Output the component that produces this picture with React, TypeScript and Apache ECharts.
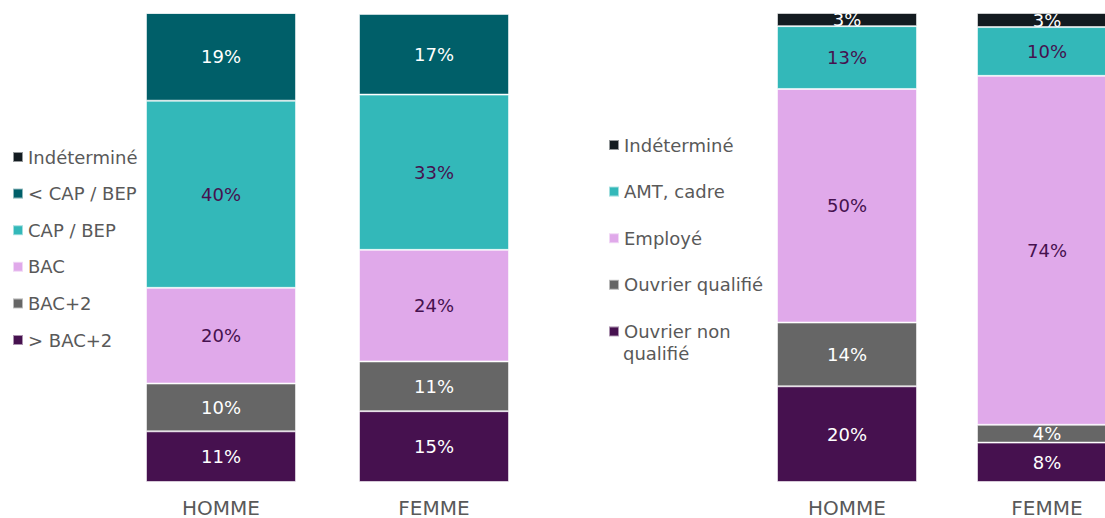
import React, { useEffect, useRef } from "react";
import * as echarts from "echarts";

const categories = ["HOMME", "FEMME"];

// Left chart: diploma level (bottom to top)
const leftSeriesNames = ["> BAC+2", "BAC+2", "BAC", "CAP / BEP", "< CAP / BEP", "Indéterminé"];
const leftSupBac2 = [10.8, 15.1];
const leftBac2 = [10.2, 10.6];
const leftBac = [20.4, 23.8];
const leftCapBep = [39.9, 33.1];
const leftInfCap = [18.7, 17.2];
const leftIndet = [0, 0.2];

// Right chart: socio-professional category (bottom to top)
const rightSeriesNames = ["Ouvrier non qualifié", "Ouvrier qualifié", "Employé", "AMT, cadre", "Indéterminé"];
const rightOuvNonQual = [20.4, 8.4];
const rightOuvQual = [13.6, 3.8];
const rightEmploye = [49.8, 74.4];
const rightAmtCadre = [13.4, 10.4];
const rightIndet = [2.8, 3.0];

const leftLegendOrder = ["Indéterminé", "< CAP / BEP", "CAP / BEP", "BAC", "BAC+2", "> BAC+2"];
const rightLegendOrder = ["Indéterminé", "AMT, cadre", "Employé", "Ouvrier qualifié", "Ouvrier non qualifié"];

const C_INDET = "#131B20";
const C_INFCAP = "#005F69";
const C_TEAL = "#33B8B9";
const C_PINK = "#E0A9EA";
const C_GREY = "#666666";
const C_PURPLE = "#46114F";
const FONT = "DejaVu Sans";

export default function App() {
  const ref = useRef<HTMLDivElement>(null);

  useEffect(() => {
    if (!ref.current) return;
    const chart = echarts.init(ref.current, undefined, { renderer: "svg" });

    const mk = (
      name: string,
      data: number[],
      color: string,
      labelColor: string,
      axis: number
    ) => ({
      name,
      type: "bar",
      stack: axis === 0 ? "left" : "right",
      xAxisIndex: axis,
      yAxisIndex: axis,
      data,
      barWidth: axis === 0 ? 150 : 140,
      itemStyle: {
        color,
        borderColor: "rgba(255,255,255,0.55)",
        borderWidth: 1,
      },
      label: {
        show: true,
        position: "inside",
        color: labelColor,
        fontSize: 18,
        fontFamily: FONT,
        formatter: (p: any) => (p.value >= 1 ? Math.round(p.value) + "%" : ""),
      },
    });

    const legendText = {
      color: "#595959",
      fontSize: 18,
      fontFamily: FONT,
      lineHeight: 18,
    };

    chart.setOption({
      animation: false,
      textStyle: { fontFamily: FONT },
      legend: [
        {
          orient: "vertical",
          left: 12,
          top: 148,
          padding: 0,
          itemWidth: 10,
          itemHeight: 10,
          itemGap: 18.6,
          icon: "rect",
          data: leftLegendOrder,
          textStyle: legendText,
          selectedMode: false,
        },
        {
          orient: "vertical",
          left: 608,
          top: 136,
          padding: 0,
          itemWidth: 10,
          itemHeight: 10,
          itemGap: 28.6,
          icon: "rect",
          data: rightLegendOrder,
          formatter: (n: string) => (n === "Ouvrier non qualifié" ? "Ouvrier non" : n),
          textStyle: legendText,
          selectedMode: false,
        },
      ],
      graphic: [
        {
          type: "text",
          left: 623,
          top: 344,
          style: {
            text: "qualifié",
            fill: "#595959",
            fontSize: 18,
            fontFamily: FONT,
          },
        },
      ],
      grid: [
        { left: 114.5, width: 426, top: 13, bottom: 34 },
        { left: 747, width: 400, top: 13, bottom: 34 },
      ],
      xAxis: [0, 1].map((i) => ({
        type: "category",
        gridIndex: i,
        data: categories,
        axisLine: { show: false },
        axisTick: { show: false },
        axisLabel: { color: "#595959", fontSize: 20, fontFamily: FONT, margin: 16 },
      })),
      yAxis: [0, 1].map((i) => ({
        type: "value",
        gridIndex: i,
        min: 0,
        max: 100,
        show: false,
        splitLine: { show: false },
      })),
      series: [
        mk(leftSeriesNames[0], leftSupBac2, C_PURPLE, "#ffffff", 0),
        mk(leftSeriesNames[1], leftBac2, C_GREY, "#ffffff", 0),
        mk(leftSeriesNames[2], leftBac, C_PINK, C_PURPLE, 0),
        mk(leftSeriesNames[3], leftCapBep, C_TEAL, C_PURPLE, 0),
        mk(leftSeriesNames[4], leftInfCap, C_INFCAP, "#ffffff", 0),
        mk(leftSeriesNames[5], leftIndet, C_INDET, "#ffffff", 0),
        mk(rightSeriesNames[0], rightOuvNonQual, C_PURPLE, "#ffffff", 1),
        mk(rightSeriesNames[1], rightOuvQual, C_GREY, "#ffffff", 1),
        mk(rightSeriesNames[2], rightEmploye, C_PINK, C_PURPLE, 1),
        mk(rightSeriesNames[3], rightAmtCadre, C_TEAL, C_PURPLE, 1),
        mk(rightSeriesNames[4], rightIndet, C_INDET, "#ffffff", 1),
      ],
    });

    return () => chart.dispose();
  }, []);

  return (
    <div
      style={{
        position: "absolute",
        left: 0,
        top: 0,
        width: 1105,
        height: 518,
        overflow: "hidden",
        background: "#fff",
      }}
    >
      <div ref={ref} style={{ width: 1160, height: 518 }} />
    </div>
  );
}
